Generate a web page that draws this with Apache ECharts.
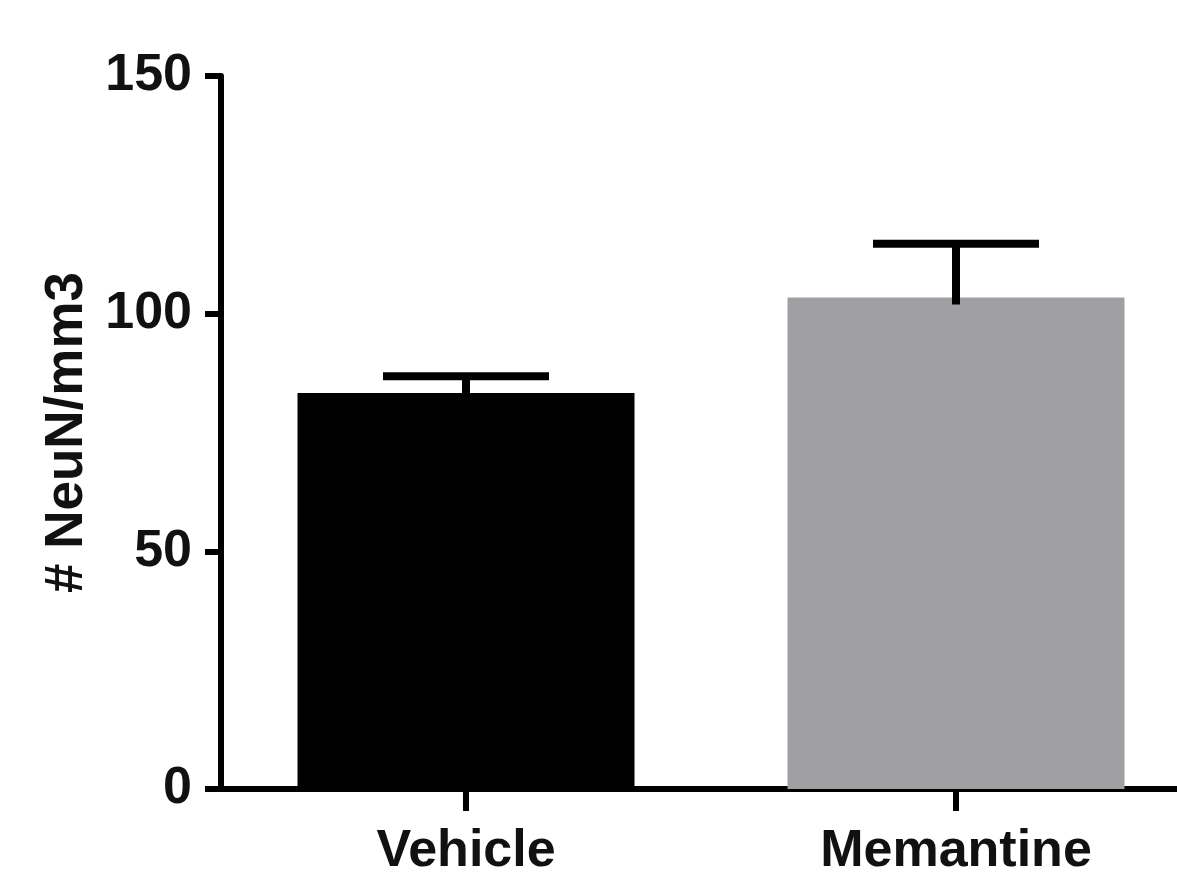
<!DOCTYPE html>
<html>
<head>
<meta charset="utf-8">
<script src="https://cdn.jsdelivr.net/npm/echarts@6/dist/echarts.min.js"></script>
<style>
  html, body { margin: 0; padding: 0; background: #ffffff; }
  #chart { width: 1177px; height: 874px; }
</style>
</head>
<body>
<div id="chart"></div>
<script>
// Neuron density per group: bar = mean, whisker = mean + SEM
const categories = ['Vehicle', 'Memantine'];
const means = [83.3, 103.4];
const upperErrors = [86.85, 114.7];
const barColors = ['#000000', '#a09fa4'];
const yTicks = [0, 50, 100, 150];
const yAxisTitle = '# NeuN/mm3';

const FONT = '"Liberation Sans Narrow", "Arial Narrow", "Liberation Sans", Arial, sans-serif';

const chart = echarts.init(document.getElementById('chart'), null, { renderer: 'canvas' });

const barData = means.map((v, i) => ({ value: v, itemStyle: { color: barColors[i] } }));
const errData = categories.map((c, i) => [i, means[i], upperErrors[i]]);

chart.setOption({
  animation: false,
  backgroundColor: '#ffffff',
  // plot area runs past the right edge so the x axis line bleeds off the page
  grid: { left: 221, width: 980, top: 76, bottom: 85, containLabel: false, outerBoundsMode: 'none' },
  xAxis: {
    type: 'category',
    data: categories,
    axisLine: { show: true, lineStyle: { color: '#000', width: 6 } },
    axisTick: { show: true, alignWithLabel: true, length: 22, lineStyle: { color: '#000', width: 6 } },
    axisLabel: { margin: 37, color: '#111', fontFamily: FONT, fontWeight: 'bold', fontSize: 52 },
    splitLine: { show: false }
  },
  yAxis: {
    type: 'value',
    min: yTicks[0],
    max: yTicks[yTicks.length - 1],
    interval: yTicks[1] - yTicks[0],
    name: yAxisTitle,
    nameLocation: 'middle',
    nameRotate: 90,
    nameGap: 122,
    nameTextStyle: { color: '#111', fontFamily: FONT, fontWeight: 'bold', fontSize: 53 },
    axisLine: { show: true, lineStyle: { color: '#000', width: 6 } },
    axisTick: { show: true, length: 16, lineStyle: { color: '#000', width: 6 } },
    axisLabel: { margin: 29, color: '#111', fontFamily: FONT, fontWeight: 'bold', fontSize: 52 },
    splitLine: { show: false }
  },
  series: [
    {
      type: 'bar',
      data: barData,
      barWidth: 337,
      z: 2
    },
    {
      type: 'custom',
      z: 3,
      data: errData,
      renderItem: function (params, api) {
        const idx = api.value(0);
        const top = api.coord([idx, api.value(2)]);
        const base = api.coord([idx, api.value(1)]);
        const capHalf = 83;
        return {
          type: 'group',
          children: [
            {
              type: 'line',
              shape: { x1: top[0], y1: top[1], x2: top[0], y2: base[1] + 7 },
              style: { stroke: '#000', lineWidth: 8 }
            },
            {
              type: 'line',
              shape: { x1: top[0] - capHalf, y1: top[1], x2: top[0] + capHalf, y2: top[1] },
              style: { stroke: '#000', lineWidth: 8 }
            }
          ]
        };
      }
    }
  ]
});
</script>
</body>
</html>
